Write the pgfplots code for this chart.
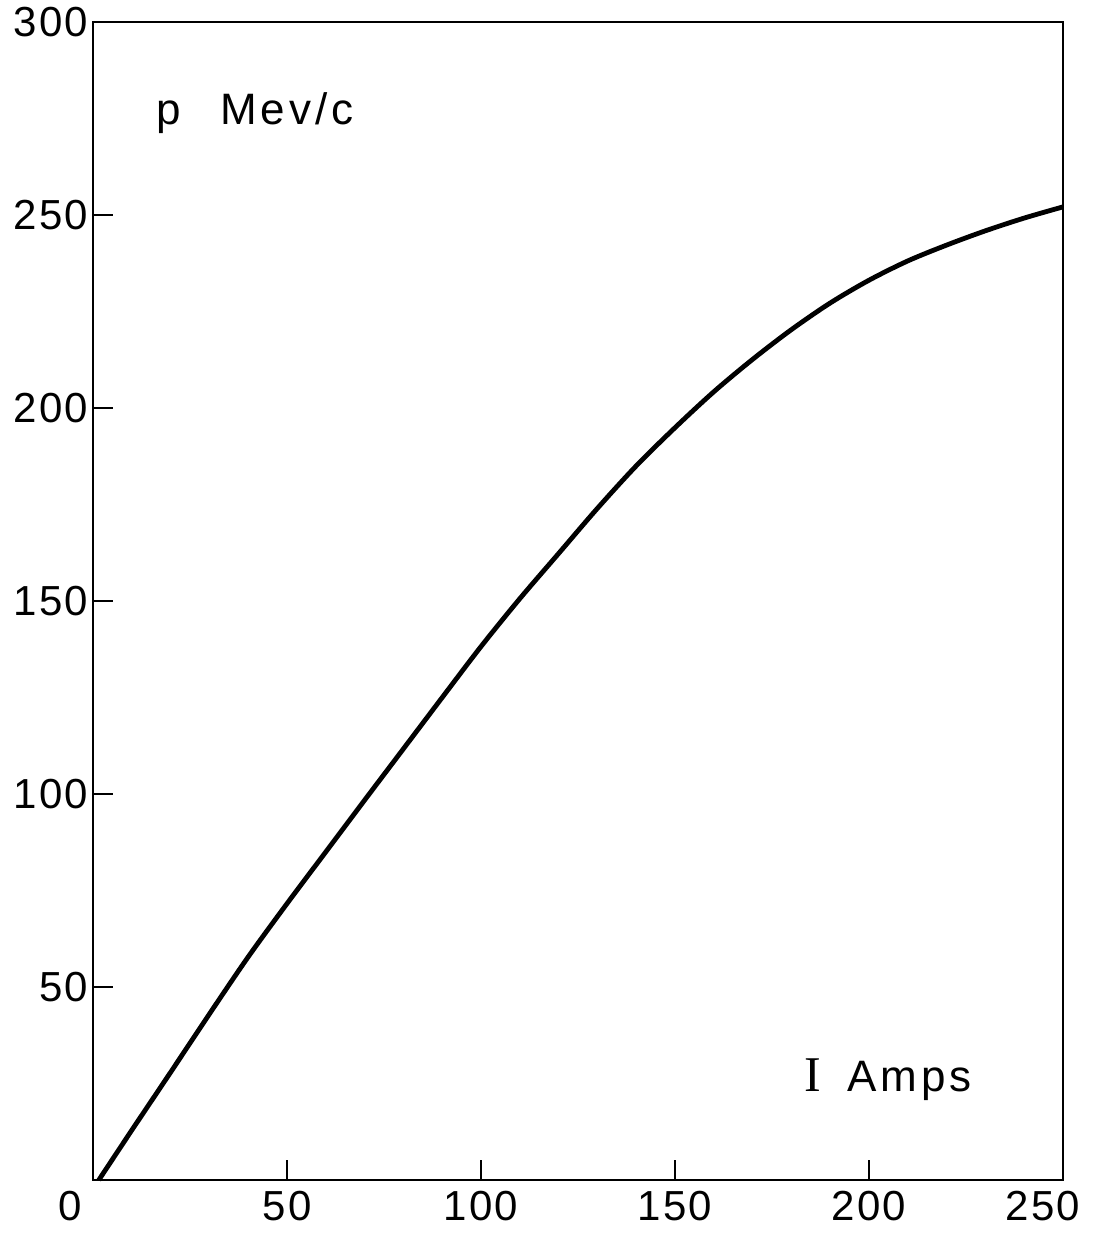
\documentclass[border=0pt]{standalone}
\usepackage{pgfplots}
\pgfplotsset{compat=1.18}
\usepackage{fontspec}
\setmainfont{Liberation Sans}
\newfontfamily\serifI{Liberation Serif}
\newfontfamily\lettering[LetterSpace=9]{Liberation Sans}
\newfontfamily\tickfont[LetterSpace=5]{Liberation Sans}

% Momentum versus magnet current
\pgfplotstableread{
I      p
1.5    0
10     12.9
20     27.9
30     43.0
40     57.8
50     71.6
60     85.0
70     98.4
80     111.7
90     125.0
100    138.2
110    150.6
120    162.3
130    174.0
140    185.0
150    194.9
160    204.2
170    212.6
180    220.3
190    227.2
200    233.1
210    238.1
220    242.2
230    245.9
240    249.2
250    252.1
}\momentum

\begin{document}
\begin{tikzpicture}
\useasboundingbox (0,0) rectangle (558pt,617pt);
\begin{axis}[
  at={(46.5pt,27pt)}, anchor=south west,
  scale only axis,
  width=485pt, height=579pt,
  xmin=0, xmax=250, ymin=0, ymax=300,
  axis line style={line width=1pt},
  xtick={0,50,100,150,200,250},
  xticklabels={{\makebox[0pt]{\hspace{-23pt}0}},50,100,150,200,{\makebox[0pt]{\hspace{-20pt}250}}},
  ytick={50,100,150,200,250,300},
  xtick pos=bottom, ytick pos=left,
  tick align=inside,
  major tick length=10pt,
  tick style={line width=0.9pt, black},
  /pgf/number format/assume math mode=true,
  ticklabel style={font=\tickfont\fontsize{21}{25}\selectfont},
  xticklabel style={yshift=-2pt},
  yticklabel style={xshift=1pt},
  clip=false,
]
\addplot[black, line width=2.4pt, smooth, tension=0.5] table[x=I, y=p] {\momentum};
\node[anchor=west, font=\lettering\fontsize{22}{26}\selectfont] at (axis cs:14.5,276.5) {p\hspace{0.9em}Mev/c};
\node[anchor=west, font=\lettering\fontsize{22}{26}\selectfont] at (axis cs:181.5,26) {{\serifI\fontsize{25}{28}\selectfont I}\hspace{0.6em}Amps};
\end{axis}
\end{tikzpicture}
\end{document}
